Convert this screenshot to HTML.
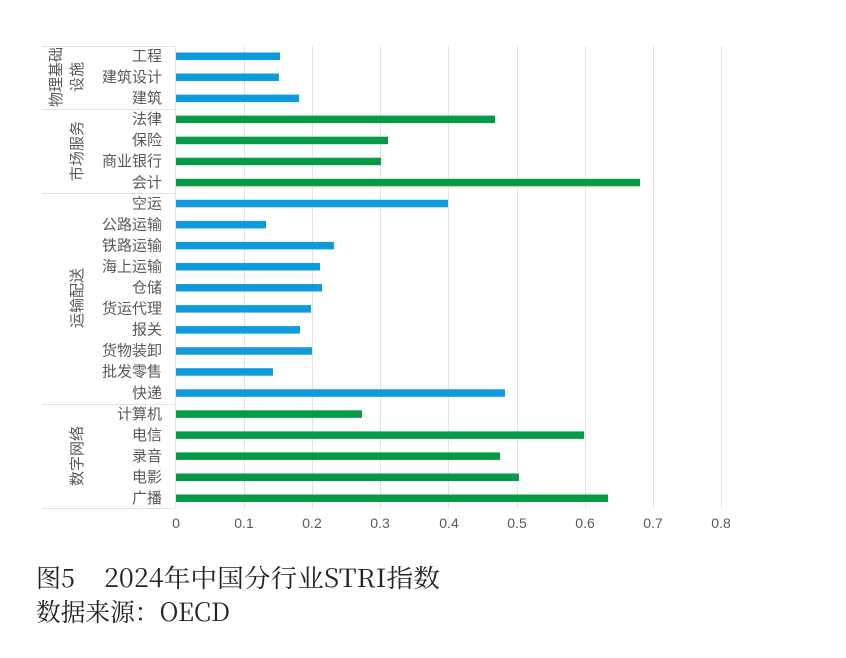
<!DOCTYPE html>
<html><head><meta charset="utf-8"><style>
body{margin:0;background:#fff;width:846px;height:658px;overflow:hidden}
svg{position:absolute;left:0;top:0}
.l{font-family:"Liberation Sans","Noto Sans CJK SC",sans-serif;font-size:15px;fill:#595959}
.t{font-family:"Liberation Sans",sans-serif;font-size:14px;fill:#595959}
.c{font-family:"Noto Serif CJK SC","Liberation Serif",serif;font-size:25px;fill:#222}
</style></head><body>
<svg width="846" height="658" xmlns="http://www.w3.org/2000/svg">
<g stroke="#e3e3e3" stroke-width="1">
<line x1="244.5" y1="46" x2="244.5" y2="508"/><line x1="312.5" y1="46" x2="312.5" y2="508"/>
<line x1="380.5" y1="46" x2="380.5" y2="508"/><line x1="448.5" y1="46" x2="448.5" y2="508"/>
<line x1="517.5" y1="46" x2="517.5" y2="508"/><line x1="585.5" y1="46" x2="585.5" y2="508"/>
<line x1="653.5" y1="46" x2="653.5" y2="508"/><line x1="721.5" y1="46" x2="721.5" y2="508"/>
<line x1="175.5" y1="46" x2="175.5" y2="508"/>
<line x1="42" y1="46.5" x2="175" y2="46.5"/>
<line x1="42" y1="109.5" x2="175" y2="109.5"/>
<line x1="42" y1="193.5" x2="175" y2="193.5"/>
<line x1="42" y1="404.5" x2="175" y2="404.5"/>
<line x1="42" y1="508.5" x2="175" y2="508.5"/>
</g>
<g>
<rect x="176" y="52.5" width="104" height="7.5" fill="#0f9bdb"/>
<rect x="176" y="73.5" width="103" height="7.5" fill="#0f9bdb"/>
<rect x="176" y="94.6" width="123" height="7.5" fill="#0f9bdb"/>
<rect x="176" y="115.6" width="319" height="7.5" fill="#049a46"/>
<rect x="176" y="136.7" width="212" height="7.5" fill="#049a46"/>
<rect x="176" y="157.7" width="205" height="7.5" fill="#049a46"/>
<rect x="176" y="178.8" width="464" height="7.5" fill="#049a46"/>
<rect x="176" y="199.8" width="272" height="7.5" fill="#0f9bdb"/>
<rect x="176" y="220.9" width="90" height="7.5" fill="#0f9bdb"/>
<rect x="176" y="241.9" width="158" height="7.5" fill="#0f9bdb"/>
<rect x="176" y="263.0" width="144" height="7.5" fill="#0f9bdb"/>
<rect x="176" y="284.0" width="146" height="7.5" fill="#0f9bdb"/>
<rect x="176" y="305.1" width="135" height="7.5" fill="#0f9bdb"/>
<rect x="176" y="326.1" width="124" height="7.5" fill="#0f9bdb"/>
<rect x="176" y="347.2" width="136" height="7.5" fill="#0f9bdb"/>
<rect x="176" y="368.2" width="97" height="7.5" fill="#0f9bdb"/>
<rect x="176" y="389.3" width="329" height="7.5" fill="#0f9bdb"/>
<rect x="176" y="410.3" width="186" height="7.5" fill="#049a46"/>
<rect x="176" y="431.4" width="408" height="7.5" fill="#049a46"/>
<rect x="176" y="452.4" width="324" height="7.5" fill="#049a46"/>
<rect x="176" y="473.5" width="343" height="7.5" fill="#049a46"/>
<rect x="176" y="494.5" width="432" height="7.5" fill="#049a46"/>
</g>
<g class="l" text-anchor="end">
<text x="162" y="61">工程</text>
<text x="162" y="82">建筑设计</text>
<text x="162" y="103.1">建筑</text>
<text x="162" y="124.1">法律</text>
<text x="162" y="145.2">保险</text>
<text x="162" y="166.2">商业银行</text>
<text x="162" y="187.3">会计</text>
<text x="162" y="208.3">空运</text>
<text x="162" y="229.4">公路运输</text>
<text x="162" y="250.4">铁路运输</text>
<text x="162" y="271.5">海上运输</text>
<text x="162" y="292.5">仓储</text>
<text x="162" y="313.6">货运代理</text>
<text x="162" y="334.6">报关</text>
<text x="162" y="355.7">货物装卸</text>
<text x="162" y="376.7">批发零售</text>
<text x="162" y="397.8">快递</text>
<text x="162" y="418.8">计算机</text>
<text x="162" y="439.9">电信</text>
<text x="162" y="460.9">录音</text>
<text x="162" y="482">电影</text>
<text x="162" y="503">广播</text>
</g>
<g class="t" text-anchor="middle">
<text x="176" y="528">0</text><text x="244" y="528">0.1</text><text x="312" y="528">0.2</text>
<text x="380" y="528">0.3</text><text x="449" y="528">0.4</text><text x="517" y="528">0.5</text>
<text x="585" y="528">0.6</text><text x="653" y="528">0.7</text><text x="721" y="528">0.8</text>
</g>
<g class="l" text-anchor="middle">
<text transform="translate(61,77) rotate(-90)">物理基础</text>
<text transform="translate(82,77) rotate(-90)">设施</text>
<text transform="translate(82,151) rotate(-90)">市场服务</text>
<text transform="translate(82,298) rotate(-90)">运输配送</text>
<text transform="translate(82,456) rotate(-90)">数字网络</text>
</g>
<text class="c" x="36" y="587">图5</text>
<text class="c" x="104" y="587" textLength="336" lengthAdjust="spacingAndGlyphs">2024年中国分行业STRI指数</text>
<text class="c" x="36" y="621" textLength="194" lengthAdjust="spacingAndGlyphs">数据来源：OECD</text>
</svg>
</body></html>
